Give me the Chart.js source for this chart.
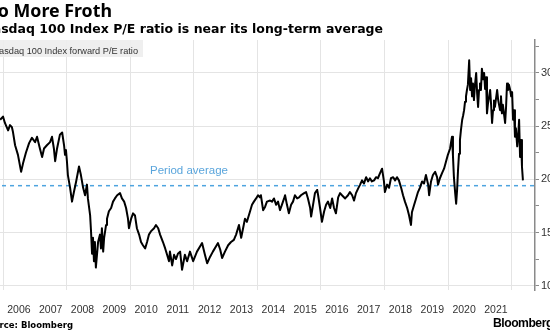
<!DOCTYPE html>
<html><head><meta charset="utf-8">
<script src="https://cdn.jsdelivr.net/npm/chart.js@4.4.0/dist/chart.umd.min.js"></script>
<style>
html,body{margin:0;padding:0;background:#fff;}
#wrap{position:relative;width:550px;height:331px;overflow:hidden;background:#fff;}
#cv{position:absolute;left:-30px;top:0;}
.t{position:absolute;white-space:nowrap;line-height:1;}
#title{right:438px;top:2px;font-family:"Noto Sans";font-weight:bold;font-size:17.8px;color:#000;}
#sub{right:167px;top:22.7px;font-family:"DejaVu Sans";font-weight:bold;font-size:12.5px;color:#000;}
#legend{left:-30px;top:40px;width:173px;height:17px;background:rgba(238,238,238,0.92);}
#legtxt{right:412px;top:47px;font-family:"Liberation Sans";font-size:9.2px;color:#333;}
#avg{left:150px;top:164.6px;font-family:"Liberation Sans";font-size:11.5px;color:#5aa5dc;}
#src{right:477px;top:320.8px;font-family:"DejaVu Sans";font-weight:bold;font-size:8.5px;color:#000;}
#logo{left:493px;top:316.6px;font-family:"Liberation Sans";font-weight:bold;font-size:12.2px;color:#000;letter-spacing:-0.5px;}
</style></head>
<body>
<div id="wrap">
  <canvas id="cv" width="600" height="331"></canvas>
  <div class="t" id="title">No More Froth</div>
  <div class="t" id="sub">Nasdaq 100 Index P/E ratio is near its long-term average</div>
  <div class="t" id="legend"></div>
  <div class="t" id="legtxt">Nasdaq 100 Index forward P/E ratio</div>
  <div class="t" id="avg">Period average</div>
  <div class="t" id="src">Source: Bloomberg</div>
  <div class="t" id="logo">Bloomberg</div>
</div>
<script>
// ---- data ----
const dates = [2005.91,2006.00,2006.06,2006.16,2006.22,2006.28,2006.31,2006.38,2006.47,2006.57,2006.63,2006.72,2006.82,2006.91,2007.01,2007.07,2007.16,2007.23,2007.29,2007.38,2007.48,2007.54,2007.60,2007.64,2007.70,2007.79,2007.86,2007.92,2007.95,2007.98,2008.01,2008.04,2008.11,2008.17,2008.23,2008.30,2008.39,2008.45,2008.52,2008.58,2008.64,2008.67,2008.74,2008.77,2008.80,2008.83,2008.86,2008.89,2008.92,2008.99,2009.05,2009.08,2009.11,2009.15,2009.18,2009.24,2009.27,2009.33,2009.40,2009.46,2009.52,2009.59,2009.68,2009.74,2009.81,2009.87,2009.93,2009.96,2010.03,2010.09,2010.15,2010.21,2010.28,2010.34,2010.40,2010.47,2010.53,2010.59,2010.65,2010.75,2010.81,2010.88,2010.94,2011.03,2011.10,2011.16,2011.22,2011.25,2011.32,2011.38,2011.44,2011.50,2011.57,2011.63,2011.72,2011.79,2011.88,2011.98,2012.10,2012.20,2012.26,2012.35,2012.42,2012.51,2012.60,2012.70,2012.76,2012.83,2012.89,2012.98,2013.08,2013.17,2013.26,2013.33,2013.42,2013.49,2013.55,2013.61,2013.67,2013.77,2013.83,2013.89,2013.96,2014.02,2014.08,2014.11,2014.18,2014.24,2014.30,2014.40,2014.46,2014.52,2014.59,2014.65,2014.71,2014.77,2014.84,2014.87,2014.93,2014.99,2015.06,2015.12,2015.18,2015.25,2015.31,2015.37,2015.47,2015.53,2015.59,2015.66,2015.69,2015.75,2015.81,2015.88,2015.91,2015.97,2016.03,2016.10,2016.16,2016.22,2016.29,2016.35,2016.41,2016.47,2016.54,2016.60,2016.66,2016.76,2016.85,2016.91,2016.98,2017.04,2017.10,2017.17,2017.23,2017.29,2017.35,2017.42,2017.48,2017.54,2017.60,2017.67,2017.73,2017.79,2017.86,2017.92,2017.98,2018.01,2018.08,2018.14,2018.20,2018.27,2018.33,2018.39,2018.45,2018.52,2018.58,2018.64,2018.71,2018.77,2018.83,2018.86,2018.93,2018.99,2019.05,2019.11,2019.18,2019.24,2019.30,2019.37,2019.40,2019.46,2019.52,2019.59,2019.65,2019.68,2019.74,2019.81,2019.87,2019.93,2019.99,2020.06,2020.09,2020.12,2020.15,2020.18,2020.22,2020.25,2020.28,2020.31,2020.34,2020.37,2020.40,2020.44,2020.47,2020.50,2020.53,2020.56,2020.59,2020.62,2020.66,2020.69,2020.72,2020.75,2020.78,2020.81,2020.84,2020.88,2020.91,2020.94,2020.97,2021.00,2021.03,2021.06,2021.10,2021.13,2021.16,2021.19,2021.22,2021.25,2021.32,2021.35,2021.38,2021.41,2021.44,2021.47,2021.54,2021.57,2021.63,2021.66,2021.69,2021.72,2021.79,2021.82,2021.85,2021.88,2021.91,2021.95,2021.98,2022.01,2022.04,2022.07,2022.10,2022.13,2022.17,2022.20,2022.23,2022.26,2022.29,2022.32,2022.35];

const peRatio = [25.6,25.9,25.3,24.6,25.1,24.9,24.5,23.2,22.3,20.7,21.5,22.5,23.4,23.9,23.5,24.0,22.9,22.1,22.9,23.2,23.5,24.0,22.9,21.7,22.9,24.2,24.4,23.2,22.3,22.75,21.7,20.4,19.2,17.9,18.8,19.8,21.2,20.4,19.2,18.5,19.5,18.2,16.6,15.0,13.0,14.5,12.3,14.1,11.7,14.1,14.8,13.5,15.4,13.2,14.5,15.7,16.3,17.0,17.3,17.9,18.2,18.5,18.7,18.2,17.9,17.3,16.3,15.4,16.3,16.8,16.6,15.4,14.8,14.1,13.8,13.5,14.1,14.8,15.1,15.4,15.7,15.4,14.8,14.1,13.5,12.9,12.3,13.2,11.9,12.9,12.5,13.0,13.2,11.5,12.9,12.3,13.2,12.3,13.2,13.7,14.0,12.9,12.1,12.7,13.2,13.7,14.0,13.4,12.6,13.2,13.8,14.1,14.3,14.8,15.7,14.5,15.4,16.3,16.0,17.0,17.6,17.9,18.2,18.5,18.3,18.5,17.1,17.4,17.9,18.0,17.9,18.2,17.6,17.9,17.1,17.6,18.2,18.5,17.6,16.8,17.6,17.9,18.5,18.2,18.3,18.5,18.7,18.8,18.2,17.3,16.5,17.6,18.7,19.0,18.5,17.3,16.0,17.0,17.6,17.9,17.3,18.2,17.3,16.8,18.3,18.7,18.5,18.2,18.5,18.8,18.5,18.0,18.7,19.15,19.5,19.9,19.6,20.2,19.8,20.1,19.8,19.9,20.2,20.1,20.6,21.0,19.8,18.8,19.5,19.2,20.1,20.2,19.9,20.2,19.9,19.2,18.5,17.9,17.3,16.6,15.7,16.9,17.6,18.2,18.8,19.2,19.8,19.6,20.4,19.5,18.5,19.8,20.4,20.7,20.2,19.5,20.1,20.6,21.0,21.65,22.3,22.9,23.5,24.0,22.2,20.2,18.7,17.7,19.0,20.9,22.4,23.7,24.6,25.6,26.0,26.5,27.3,27.8,28.4,28.9,31.2,28.4,29.5,27.8,29.0,27.45,28.8,30.0,28.1,26.8,28.4,29.0,28.4,30.4,29.4,30.0,28.5,29.6,26.2,27.1,28.4,27.0,25.3,26.5,27.4,26.8,28.4,27.5,26.5,27.8,26.2,27.0,25.3,26.8,29.0,28.4,28.9,28.4,27.8,28.2,25.6,26.5,24.0,24.8,23.1,24.0,25.6,22.1,23.7,21.2,19.9];

const periodAverage = 19.4;
const yearLabels = ['2006','2007','2008','2009','2010','2011','2012','2013','2014','2015','2016','2017','2018','2019','2020','2021'];
const gridYears = [2006,2008,2010,2012,2014,2016,2018,2020,2022];
const yTickLabels = [10,15,20,25,30];
const yMinorTicks = [12.5,17.5,22.5,27.5,32.5];

const X_MIN = 2004.962, X_MAX = 2022.73;
const Y_MIN = 9.59, Y_MAX = 33.1;

const n = Math.min(dates.length, peRatio.length);
const series = [];
for (let i = 0; i < n; i++) series.push({x: dates[i], y: peRatio[i]});

const xTicks = gridYears.concat(yearLabels.map(l => +l + 0.5)).sort((a,b)=>a-b);
const yTicks = yTickLabels.concat(yMinorTicks).sort((a,b)=>a-b);

new Chart(document.getElementById('cv').getContext('2d'), {
  type: 'line',
  data: {
    datasets: [
      {data: series, borderColor: '#000', borderWidth: 2, pointRadius: 0, tension: 0, borderJoinStyle: 'round', order: 0},
      {data: [{x: X_MIN, y: periodAverage}, {x: X_MAX, y: periodAverage}], borderColor: '#4ea4df', borderWidth: 1.5, borderDash: [4, 4], pointRadius: 0, order: 1}
    ]
  },
  options: {
    responsive: false, animation: false, devicePixelRatio: 1,
    layout: {padding: {top: 40, left: 0, right: 0, bottom: 0}},
    plugins: {legend: {display: false}, tooltip: {enabled: false}},
    scales: {
      x: {
        type: 'linear', min: X_MIN, max: X_MAX,
        border: {display: false},
        grid: {drawTicks: false, lineWidth: 1,
          color: c => (c.tick && Number.isInteger(c.tick.value)) ? '#e4e4e4' : 'rgba(0,0,0,0)'},
        ticks: {padding: 14, autoSkip: false, maxRotation: 0, color: '#333',
          font: {family: 'Liberation Sans', size: 10.5},
          callback: v => Number.isInteger(v) ? '' : String(Math.floor(v))},
        afterBuildTicks: s => { s.ticks = xTicks.map(v => ({value: v})); },
        afterFit: s => { s.height = 41; s.paddingLeft = 0; s.paddingRight = 0; }
      },
      y: {
        position: 'right', min: Y_MIN, max: Y_MAX,
        border: {display: true, color: '#8a8a8a', width: 1.5},
        grid: {drawTicks: true, tickLength: 4, tickColor: '#8a8a8a', lineWidth: 1,
          color: c => (c.tick && c.tick.value % 5 === 0) ? '#e4e4e4' : 'rgba(0,0,0,0)'},
        ticks: {padding: 2, color: '#333', font: {family: 'Liberation Sans', size: 11},
          callback: v => (v % 5 === 0) ? String(v) : ''},
        afterBuildTicks: s => { s.ticks = yTicks.map(v => ({value: v})); },
        afterFit: s => { s.width = 35; s.paddingTop = 0; s.paddingBottom = 0; }
      }
    }
  }
});
</script>
</body></html>
